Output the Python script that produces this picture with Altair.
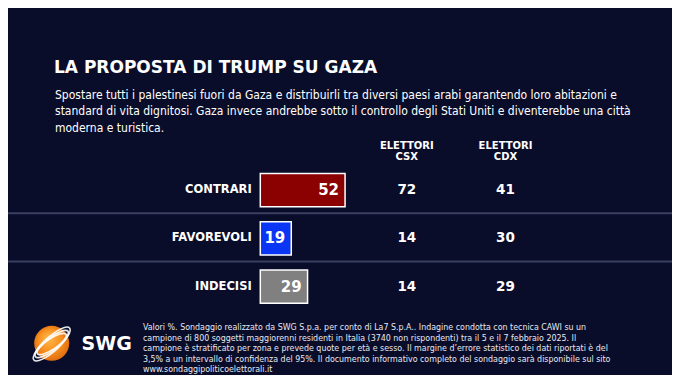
import altair as alt
import pandas as pd

# ---------------- data ----------------
categories = ["CONTRARI", "FAVOREVOLI", "INDECISI"]
totale = [52, 19, 29]
elettori_csx = [72, 14, 14]
elettori_cdx = [41, 30, 29]
header_csx = "ELETTORI\nCSX"
header_cdx = "ELETTORI\nCDX"
title_text = "LA PROPOSTA DI TRUMP SU GAZA"
subtitle_lines = [
    "Spostare tutti i palestinesi fuori da Gaza e distribuirli tra diversi paesi arabi garantendo loro abitazioni e",
    "standard di  vita dignitosi. Gaza invece andrebbe sotto il controllo degli Stati Uniti e diventerebbe una città",
    "moderna e turistica.",
]
footer_lines = [
    "Valori %. Sondaggio realizzato da SWG S.p.a. per conto di La7 S.p.A.. Indagine condotta con tecnica CAWI su un",
    "campione di 800 soggetti maggiorenni residenti in Italia (3740 non rispondenti) tra il 5 e il 7 febbraio 2025. Il",
    "campione è stratificato per zona e prevede quote per età e sesso. Il margine d’errore statistico dei dati riportati è del",
    "3,5% a un intervallo di confidenza del 95%. Il documento informativo completo del sondaggio sarà disponibile sul sito",
    "www.sondaggipoliticoelettorali.it",
]
logo_text = "SWG"

# ---------------- style ----------------
W, H = 664, 367
BG = "#0a0d2a"
BAR_COLORS = ["#8b0000", "#0a35f5", "#808080"]
FONT = "DejaVu Sans"
FONT_C = "DejaVu Sans Condensed"

df = pd.DataFrame({"cat": categories, "totale": totale, "csx": elettori_csx, "cdx": elettori_cdx})

y_scale = alt.Scale(domain=categories, range=[165.5, 295.3], paddingInner=0.3125, paddingOuter=0)
x_scale = alt.Scale(domain=[0, 100], range=[252.3, 415.3])


def Y(**kw):
    return alt.Y("cat:N", scale=y_scale, axis=None, sort=categories, **kw)


base = alt.Chart(df)

separators = alt.Chart(df.iloc[1:]).mark_rule(color="#3a4062", strokeWidth=2, yOffset=-8.5).encode(
    y=Y(bandPosition=0)
)

bars = base.mark_bar(stroke="white", strokeWidth=1.5).encode(
    x=alt.X("totale:Q", scale=x_scale, axis=None),
    y=Y(),
    color=alt.Color("cat:N", scale=alt.Scale(domain=categories, range=BAR_COLORS), legend=None),
)

bar_labels = base.mark_text(
    align="right", baseline="middle", dx=-6, color="white", font=FONT, fontWeight="bold", fontSize=15
).encode(x=alt.X("totale:Q", scale=x_scale, axis=None), y=Y(), text="totale:Q")

cat_labels = base.mark_text(
    align="right", baseline="middle", color="white", font=FONT, fontWeight="bold", fontSize=11.5
).encode(x=alt.value(243.7), y=Y(), text="cat:N")

csx_vals = base.mark_text(
    align="center", baseline="middle", color="white", font=FONT, fontWeight="bold", fontSize=13.5
).encode(x=alt.value(398.8), y=Y(), text="csx:Q")

cdx_vals = base.mark_text(
    align="center", baseline="middle", color="white", font=FONT, fontWeight="bold", fontSize=13.5
).encode(x=alt.value(497.5), y=Y(), text="cdx:Q")

hdr_style = dict(align="center", baseline="middle", color="white", font=FONT, fontWeight="bold",
                 fontSize=10, lineBreak="\n", lineHeight=11.5)
hdr1 = alt.Chart(pd.DataFrame({"h": [header_csx]})).mark_text(**hdr_style).encode(
    x=alt.value(398.8), y=alt.value(137.8), text="h:N")
hdr2 = alt.Chart(pd.DataFrame({"h": [header_cdx]})).mark_text(**hdr_style).encode(
    x=alt.value(497.5), y=alt.value(137.8), text="h:N")

title = alt.Chart(pd.DataFrame({"t": [title_text]})).mark_text(
    align="left", baseline="alphabetic", color="white", font=FONT, fontWeight="bold", fontSize=17
).encode(x=alt.value(46), y=alt.value(65), text="t:N")

subtitle = alt.Chart(pd.DataFrame({"t": ["\n".join(subtitle_lines)]})).mark_text(
    align="left", baseline="alphabetic", color="white", font=FONT_C, fontSize=12,
    lineBreak="\n", lineHeight=16.5
).encode(x=alt.value(47), y=alt.value(90.5), text="t:N")

footer = alt.Chart(pd.DataFrame({"t": ["\n".join(footer_lines)]})).mark_text(
    align="left", baseline="alphabetic", color="#e8e8ee", font=FONT_C, fontSize=8.8,
    lineBreak="\n", lineHeight=10.5
).encode(x=alt.value(135), y=alt.value(322), text="t:N")

# ---------------- logo ----------------
logo_df = pd.DataFrame({"t": [logo_text]})
sphere_fill = alt.RadialGradient(
    gradient="radial", x1=0.4, y1=0.35, r1=0.05, x2=0.5, y2=0.5, r2=0.6,
    stops=[alt.GradientStop(color="#ffb347", offset=0), alt.GradientStop(color="#f7901e", offset=0.5),
           alt.GradientStop(color="#d8600c", offset=1)],
)
sphere = alt.Chart(logo_df).mark_point(
    shape="circle", filled=True, fill=sphere_fill, size=1225, strokeWidth=0, opacity=1
).encode(x=alt.value(43.7), y=alt.value(335.3))

ring_path = "M -1 0 A 1 0.3 0 1 0 1 0 A 1 0.3 0 1 0 -1 0 Z"
rings = []
for sz, ang, sw in [(2300, 318, 1.6), (1700, 322, 1.8), (1200, 326, 1.6)]:
    rings.append(
        alt.Chart(logo_df).mark_point(
            shape=ring_path, filled=False, stroke="white", strokeWidth=sw, size=sz, angle=ang, opacity=0.9
        ).encode(x=alt.value(43.7), y=alt.value(336))
    )

swg = alt.Chart(logo_df).mark_text(
    align="left", baseline="middle", color="white", font=FONT, fontWeight="bold", fontSize=19
).encode(x=alt.value(73.5), y=alt.value(335.5), text="t:N")

chart = alt.layer(
    separators, bars, bar_labels, cat_labels, csx_vals, cdx_vals, hdr1, hdr2,
    title, subtitle, footer, sphere, *rings, swg
).properties(
    width=W, height=H, autosize=alt.AutoSizeParams(type="none"), padding=0, background=BG
).configure_view(stroke=None)

chart.save("out.html", embed_options={"renderer": "svg", "actions": False})
